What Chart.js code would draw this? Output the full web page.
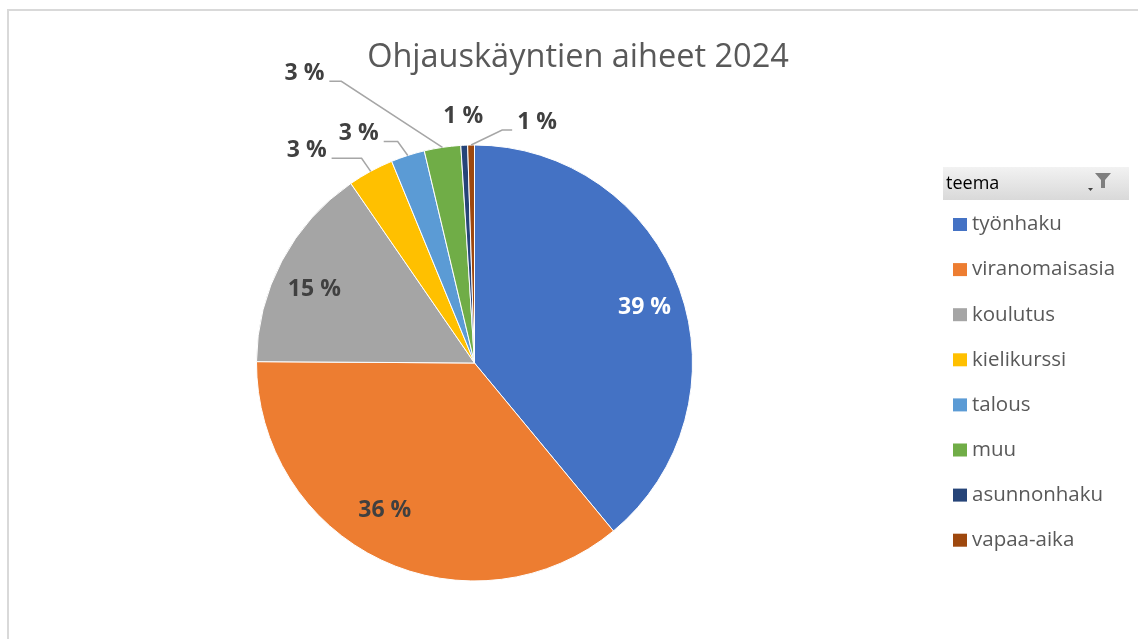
<!DOCTYPE html>
<html>
<head>
<meta charset="utf-8">
<title>Ohjauskäyntien aiheet 2024</title>
<script src="https://cdn.jsdelivr.net/npm/chart.js@4"></script>
<style>
  html, body { margin: 0; padding: 0; background: #fff; }
  canvas { display: block; }
</style>
</head>
<body>
<canvas id="pieChart" width="1138" height="639"></canvas>
<script>
// data
const chartTitle = "Ohjauskäyntien aiheet 2024";
const legendTitle = "teema";
const categories = ["työnhaku", "viranomaisasia", "koulutus", "kielikurssi", "talous", "muu", "asunnonhaku", "vapaa-aika"];
const shares = [39.0, 36.1, 15.3, 3.4, 2.5, 2.7, 0.5, 0.5];

const sliceColors = ["#4472C4", "#ED7D31", "#A5A5A5", "#FFC000", "#5B9BD5", "#70AD47", "#264478", "#9E480E"];
const labelColors = ["#ffffff", "#404040", "#404040", "#404040", "#404040", "#404040", "#404040", "#404040"];

// label placement: [dx, dy, leader elbow length or null]
// first three sit inside the slice, the rest are pulled out from the rim
const labelShift = [
  [6, 4, null], [-15, -10, null], [-6, 8, null],
  [-64, -21, 30], [-49, -22, 14], [-138, -74, 12], [-1, -29, null], [66, -23, 10]
];

const fontFam = "'Open Sans', 'DejaVu Sans', sans-serif";

// border, title, legend and labels
const decorPlugin = {
  id: "decor",
  beforeDraw(chart) {
    const ctx = chart.ctx;
    ctx.save();
    ctx.fillStyle = "#fff";
    ctx.fillRect(0, 0, chart.width, chart.height);
    ctx.strokeStyle = "#d9d9d9";
    ctx.lineWidth = 2;
    ctx.beginPath();
    ctx.moveTo(8, chart.height);
    ctx.lineTo(8, 10);
    ctx.lineTo(chart.width, 10);
    ctx.stroke();
    ctx.restore();
  },
  afterDatasetsDraw(chart) {
    const ctx = chart.ctx;
    const meta = chart.getDatasetMeta(0);
    const total = shares.reduce((a, b) => a + b, 0);
    ctx.save();
    ctx.font = "bold 23px " + fontFam;
    ctx.textAlign = "center";
    ctx.textBaseline = "middle";
    meta.data.forEach((arc, i) => {
      const mid = (arc.startAngle + arc.endAngle) / 2;
      const r = arc.outerRadius;
      const txt = Math.round(shares[i] / total * 100) + " %";
      const sh = labelShift[i];
      let lx, ly;
      if (i < 3) {
        lx = arc.x + Math.cos(mid) * r * 0.8 + sh[0];
        ly = arc.y + Math.sin(mid) * r * 0.8 + sh[1];
      } else {
        const rx = arc.x + Math.cos(mid) * r;
        const ry = arc.y + Math.sin(mid) * r;
        lx = rx + sh[0];
        ly = ry + sh[1];
        if (sh[2] !== null) {
          const w = ctx.measureText(txt).width;
          const side = lx < rx ? 1 : -1;
          const sx = lx + side * (w / 2 + 5);
          const lineY = ly + 8;
          ctx.strokeStyle = "#a6a6a6";
          ctx.lineWidth = 1.5;
          ctx.beginPath();
          ctx.moveTo(sx, lineY);
          ctx.lineTo(sx + side * sh[2], lineY);
          ctx.lineTo(rx, ry);
          ctx.stroke();
        }
      }
      ctx.fillStyle = labelColors[i];
      ctx.fillText(txt, lx, ly);
    });
    ctx.restore();
  },
  afterDraw(chart) {
    const ctx = chart.ctx;
    ctx.save();
    // title
    ctx.fillStyle = "#595959";
    ctx.font = "32.5px " + fontFam;
    ctx.textAlign = "center";
    ctx.textBaseline = "alphabetic";
    ctx.fillText(chartTitle, 578, 67);

    // legend header
    const g = ctx.createLinearGradient(0, 167, 0, 200);
    g.addColorStop(0, "#f2f2f2");
    g.addColorStop(1, "#d9d9d9");
    ctx.fillStyle = g;
    ctx.fillRect(943, 167, 186, 33);
    ctx.fillStyle = "#000";
    ctx.font = "18px " + fontFam;
    ctx.textAlign = "left";
    ctx.textBaseline = "middle";
    ctx.fillText(legendTitle, 946, 184);
    // filter icon
    ctx.fillStyle = "#7f7f7f";
    ctx.beginPath();
    ctx.moveTo(1095, 173);
    ctx.lineTo(1111, 173);
    ctx.lineTo(1105, 180);
    ctx.lineTo(1105, 188);
    ctx.lineTo(1101, 188);
    ctx.lineTo(1101, 180);
    ctx.closePath();
    ctx.fill();
    ctx.fillStyle = "#404040";
    ctx.beginPath();
    ctx.moveTo(1088, 188);
    ctx.lineTo(1093, 188);
    ctx.lineTo(1090.5, 191);
    ctx.closePath();
    ctx.fill();

    // legend items
    ctx.font = "20.5px " + fontFam;
    categories.forEach((c, i) => {
      const y = 224.5 + i * 45.1;
      ctx.fillStyle = sliceColors[i];
      ctx.fillRect(953, y - 6.5, 14, 13);
      ctx.fillStyle = "#595959";
      ctx.fillText(c, 972, y);
    });
    ctx.restore();
  }
};

const ctx = document.getElementById("pieChart").getContext("2d");
new Chart(ctx, {
  type: "pie",
  data: {
    labels: categories,
    datasets: [{
      data: shares,
      backgroundColor: sliceColors,
      borderColor: "#ffffff",
      borderWidth: 1
    }]
  },
  options: {
    responsive: false,
    animation: false,
    devicePixelRatio: 1,
    radius: 218,
    layout: { padding: { left: 256.5, right: 445.5, top: 145, bottom: 58 } },
    plugins: {
      legend: { display: false },
      title: { display: false },
      tooltip: { enabled: false }
    }
  },
  plugins: [decorPlugin]
});
</script>
</body>
</html>
